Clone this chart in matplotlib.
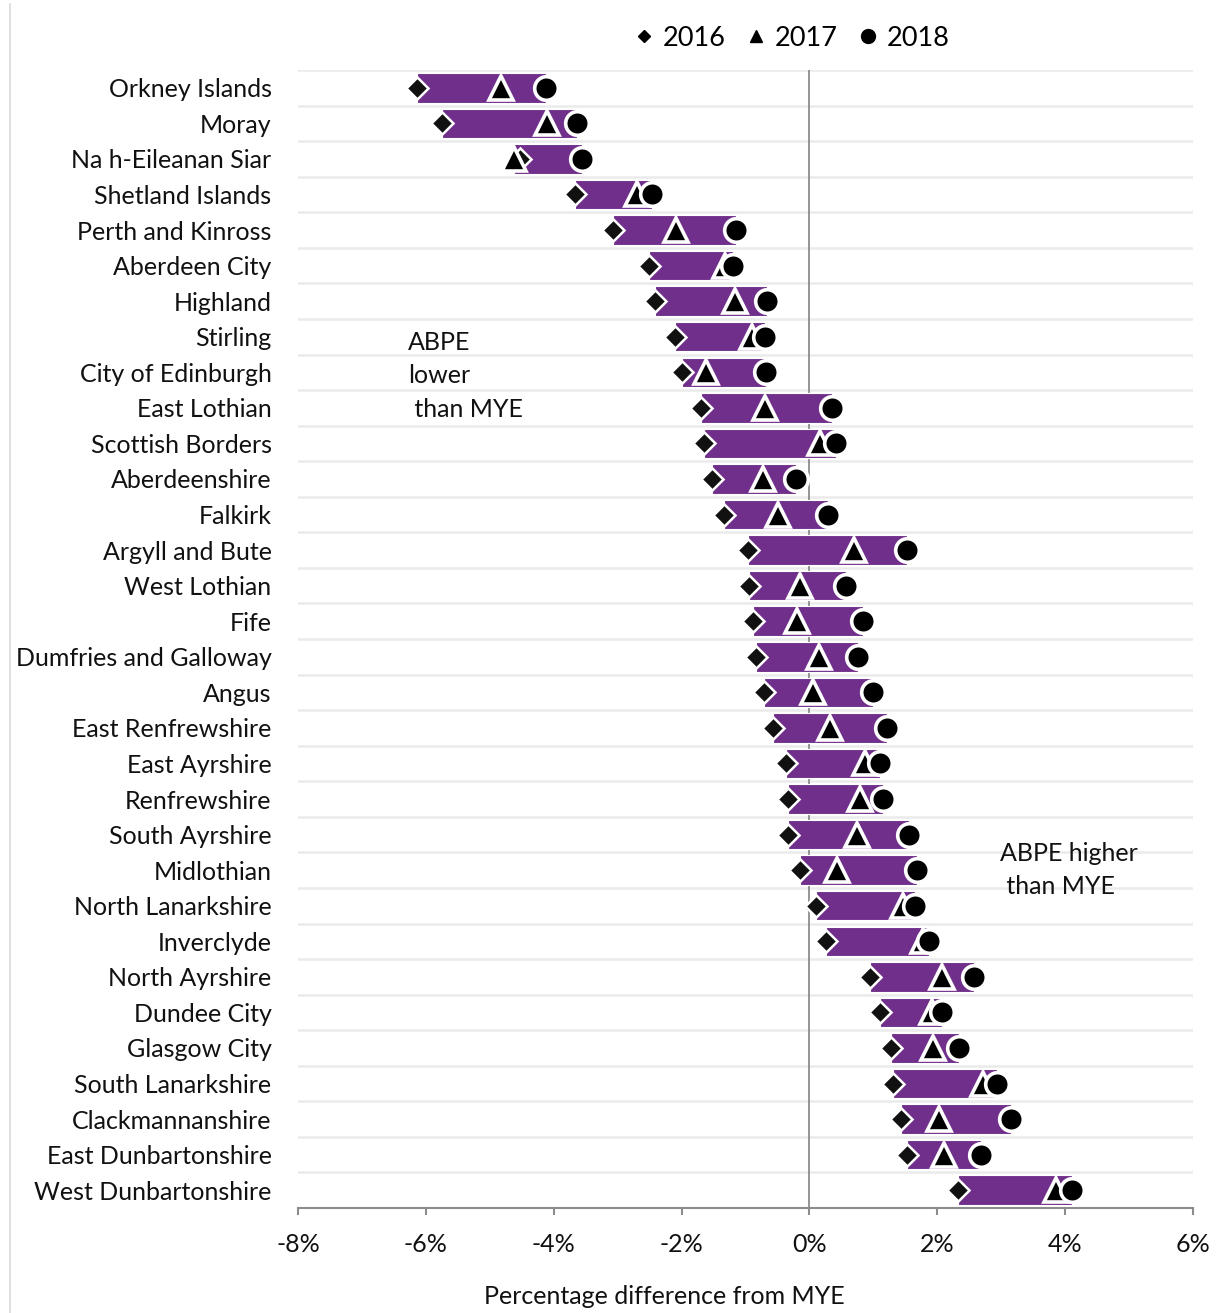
import numpy as np
import matplotlib
matplotlib.use("Agg")
import matplotlib.pyplot as plt
from matplotlib.lines import Line2D
from matplotlib.ticker import FuncFormatter

plt.rcParams['font.family'] = ['Lato', 'DejaVu Sans']

# council areas, top to bottom
areas = ["Orkney Islands", "Moray", "Na h-Eileanan Siar", "Shetland Islands",
         "Perth and Kinross", "Aberdeen City", "Highland", "Stirling",
         "City of Edinburgh", "East Lothian", "Scottish Borders", "Aberdeenshire",
         "Falkirk", "Argyll and Bute", "West Lothian", "Fife",
         "Dumfries and Galloway", "Angus", "East Renfrewshire", "East Ayrshire",
         "Renfrewshire", "South Ayrshire", "Midlothian", "North Lanarkshire",
         "Inverclyde", "North Ayrshire", "Dundee City", "Glasgow City",
         "South Lanarkshire", "Clackmannanshire", "East Dunbartonshire",
         "West Dunbartonshire"]

# percentage difference of ABPE from MYE
y2016 = [-6.14, -5.74, -4.53, -3.67, -3.07, -2.51, -2.42, -2.10,
         -2.00, -1.69, -1.65, -1.53, -1.34, -0.96, -0.94, -0.89,
         -0.83, -0.71, -0.57, -0.37, -0.34, -0.34, -0.15, 0.11,
         0.26, 0.95, 1.10, 1.27, 1.31, 1.43, 1.53, 2.32]
y2017 = [-4.83, -4.11, -4.62, -2.70, -2.09, -1.32, -1.17, -0.90,
         -1.62, -0.70, 0.16, -0.72, -0.49, 0.69, -0.14, -0.20,
         0.15, 0.05, 0.32, 0.87, 0.79, 0.74, 0.43, 1.47,
         1.78, 2.07, 1.91, 1.94, 2.71, 2.03, 2.10, 3.86]
y2018 = [-4.12, -3.63, -3.56, -2.47, -1.15, -1.19, -0.67, -0.70,
         -0.68, 0.36, 0.41, -0.21, 0.29, 1.52, 0.57, 0.84,
         0.76, 0.99, 1.21, 1.11, 1.15, 1.56, 1.68, 1.65,
         1.87, 2.57, 2.07, 2.34, 2.93, 3.16, 2.68, 4.10]

purple = '#702F8A'
grey = '#8c8c8c'
txt = '#111111'
fs = 18

fig = plt.figure(figsize=(12.2, 13.13), dpi=100)
ax = fig.add_axes([298/1220, 1 - 1208/1313, (1193 - 298)/1220, (1208 - 70)/1313])

pos = np.arange(len(areas))
vals = np.array([y2016, y2017, y2018])
lo = vals.min(axis=0)
hi = vals.max(axis=0)

# purple band spans the range of the three years
ax.barh(pos, hi - lo, left=lo, height=0.83, color=purple,
        edgecolor='white', linewidth=0.8, zorder=2)

ax.plot(y2016, pos, ls='none', marker='D', ms=11, mfc='#111111',
        mec='white', mew=1.8, zorder=3)
ax.plot(y2017, pos, ls='none', marker='^', ms=17, mfc='black',
        mec='white', mew=2.6, zorder=4)
ax.plot(y2018, pos, ls='none', marker='o', ms=17, mfc='black',
        mec='white', mew=2.6, zorder=5)

# row separators and the zero line
for b in pos:
    ax.axhline(b - 0.5, color='#ebebeb', lw=1.8, zorder=0)
ax.axvline(0, color=grey, lw=1.3, zorder=1)

ax.set_xlim(-8, 6)
ax.set_ylim(len(areas) - 0.5, -0.5)
ax.set_xticks(np.arange(-8, 7, 2))
ax.xaxis.set_major_formatter(FuncFormatter(lambda v, p: f"{v:.0f}%"))
ax.set_yticks(pos)
ax.set_yticklabels(areas)

for s in ['top', 'right', 'left']:
    ax.spines[s].set_visible(False)
ax.spines['bottom'].set_color(grey)
ax.spines['bottom'].set_linewidth(1.5)
ax.tick_params(axis='y', length=0, pad=19, labelsize=fs, labelcolor=txt)
ax.tick_params(axis='x', length=5, width=1.5, color=grey, pad=13,
               labelsize=fs, labelcolor=txt)
ax.set_xlabel('Percentage difference from MYE', fontsize=fs,
              color=txt, labelpad=20)
ax.xaxis.set_label_coords((664 - 298) / 895, -(1297 - 1208) / 1138)
ax.xaxis.label.set_va('center')

ax.text(-6.28, 8.1, 'ABPE\nlower\n than MYE', ha='left', va='center',
        fontsize=fs, color=txt, linespacing=1.55)
ax.text(2.98, 22.0, 'ABPE higher\n than MYE', ha='left', va='center',
        fontsize=fs, color=txt, linespacing=1.55)

handles = [Line2D([], [], ls='none', marker='D', ms=6, color='black'),
           Line2D([], [], ls='none', marker='^', ms=8, color='black'),
           Line2D([], [], ls='none', marker='o', ms=10, color='black')]
fig.legend(handles, ['2016', '2017', '2018'], loc='center',
           bbox_to_anchor=(790/1220, 1 - 38/1313), ncol=3, frameon=False,
           fontsize=19.5, handletextpad=0.2, columnspacing=0.6,
           handlelength=1.0)

fig.add_artist(Line2D([10/1220, 10/1220], [0, 1 - 4/1313], color='#d9d9d9', lw=1.2))

fig.savefig('out.png', dpi=100)
